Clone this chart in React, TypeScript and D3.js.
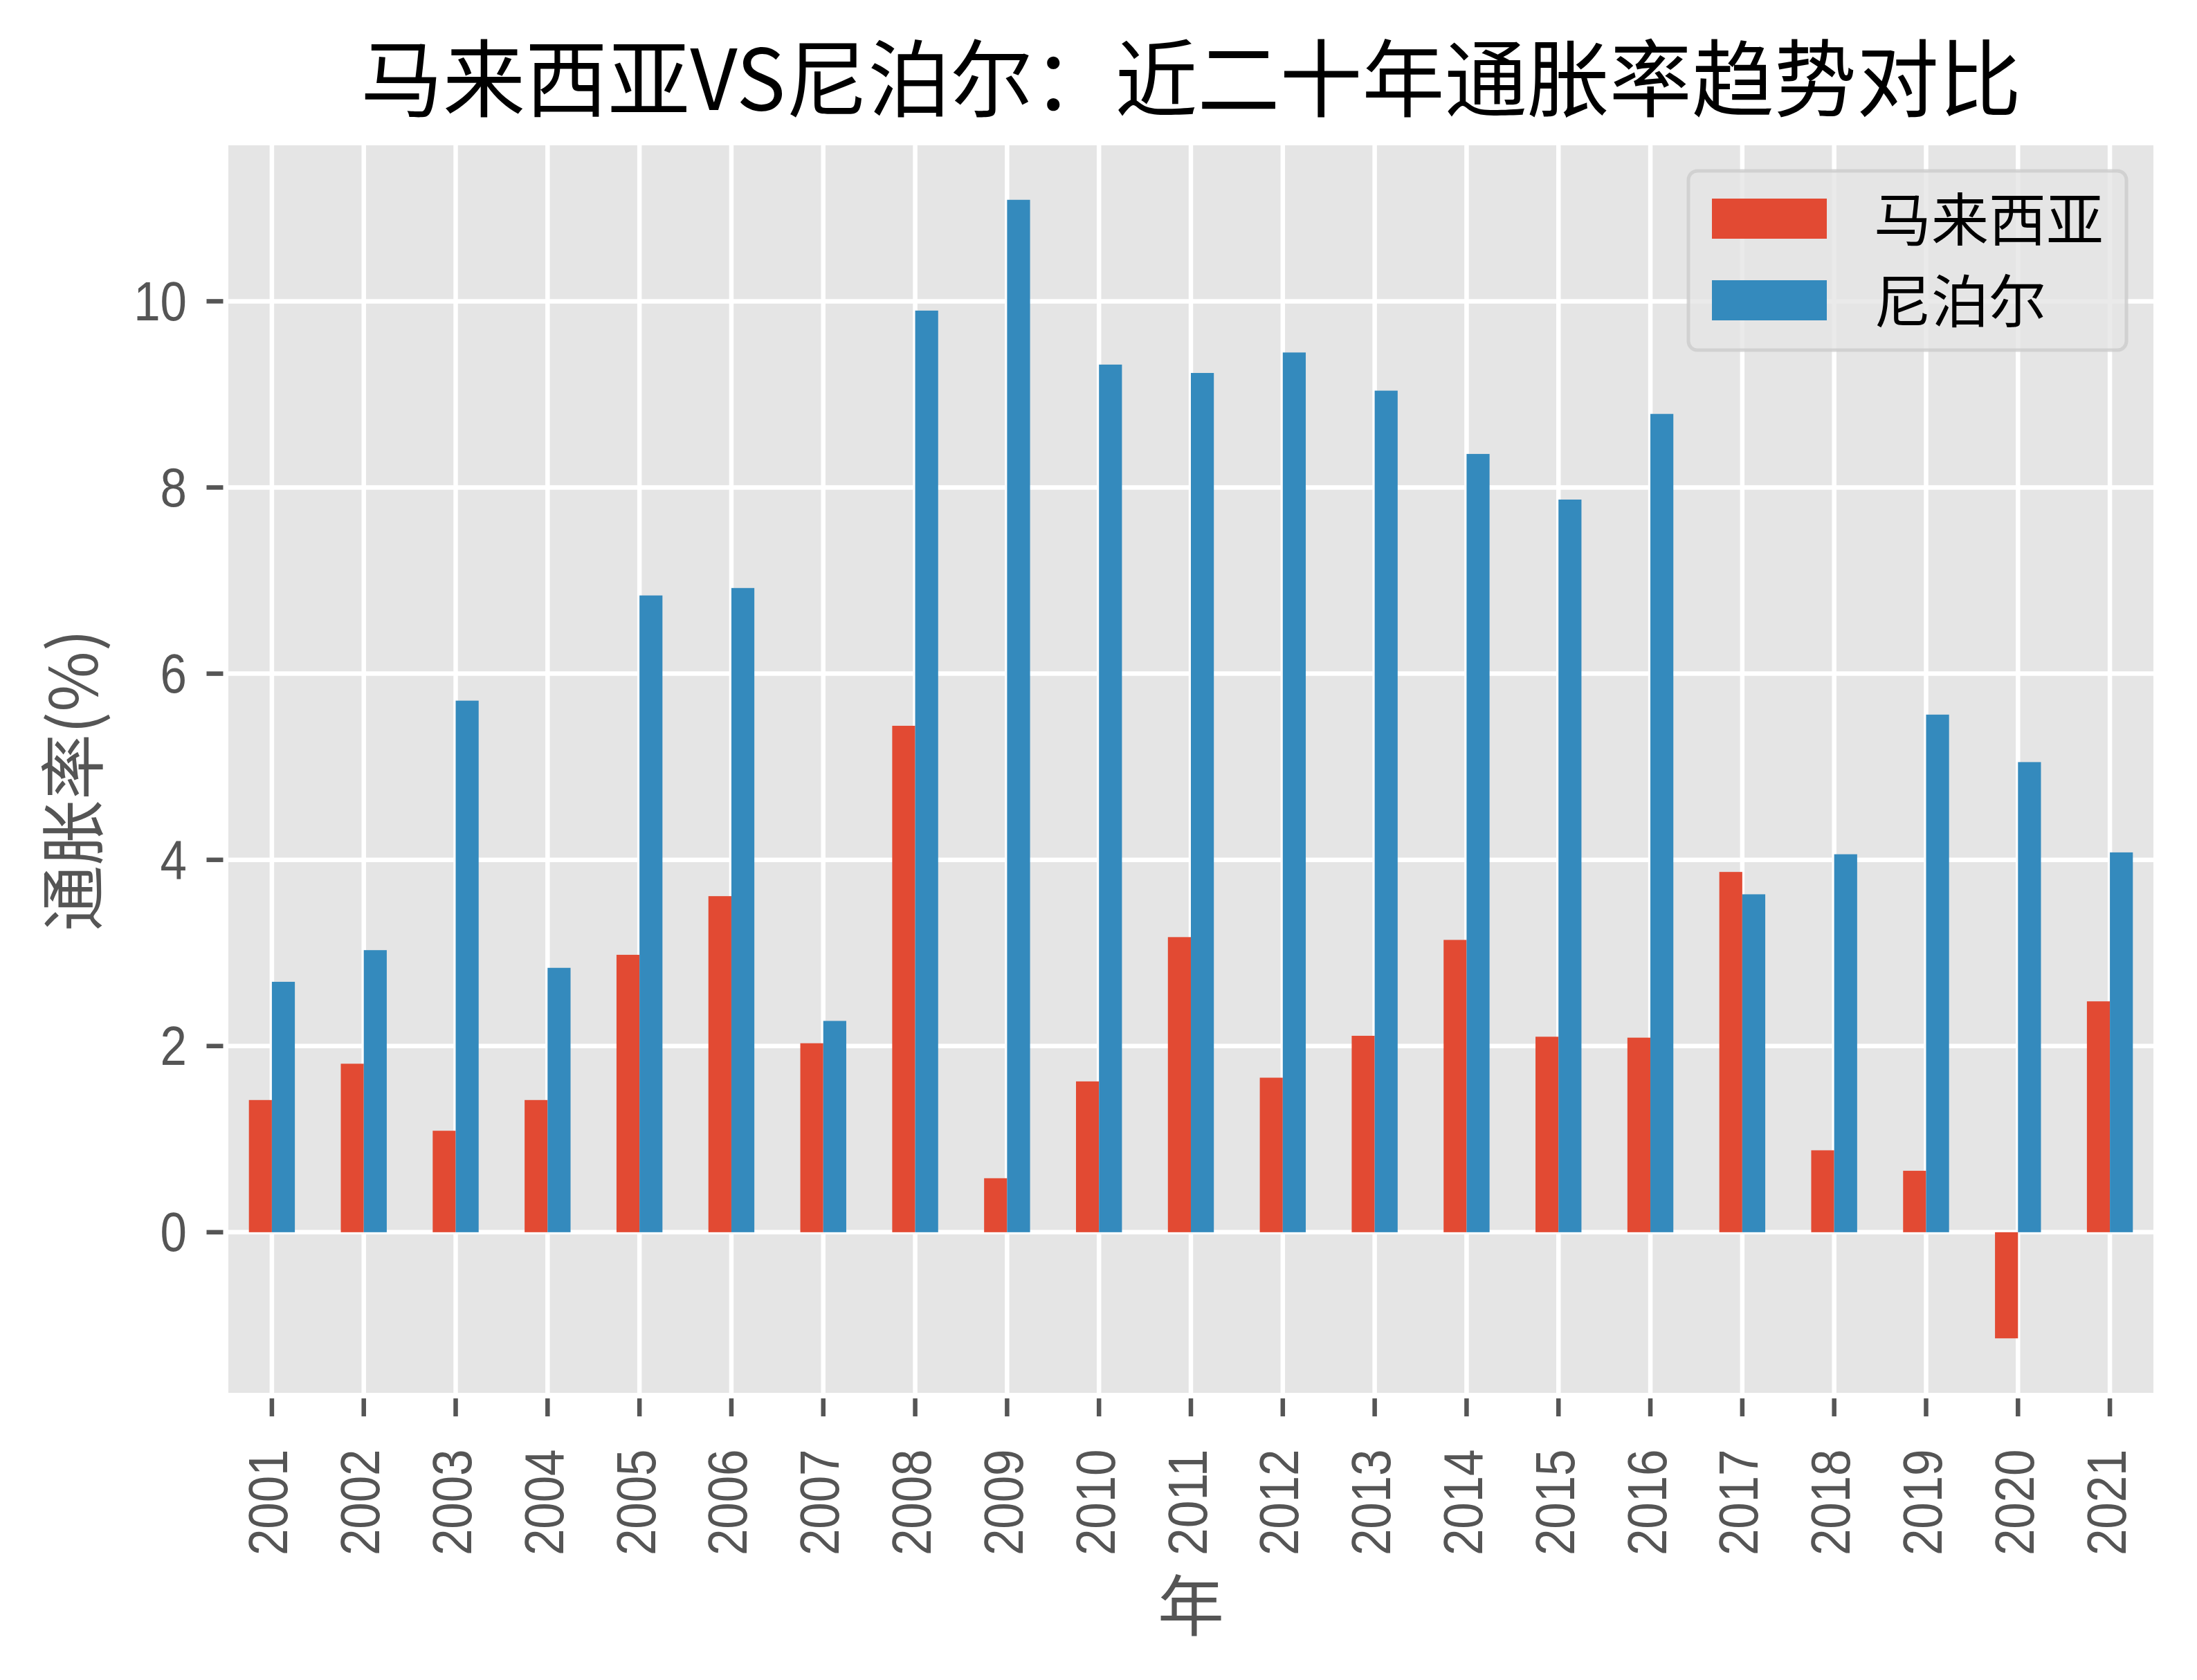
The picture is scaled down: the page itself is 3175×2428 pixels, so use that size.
import React from "react";
import * as d3 from "d3";

// Annual consumer price inflation (%), 2001–2021
const years = [
  "2001", "2002", "2003", "2004", "2005", "2006", "2007", "2008", "2009", "2010",
  "2011", "2012", "2013", "2014", "2015", "2016", "2017", "2018", "2019", "2020", "2021",
];
const malaysia = [
  1.42, 1.81, 1.09, 1.42, 2.98, 3.61, 2.03, 5.44, 0.58, 1.62,
  3.17, 1.66, 2.11, 3.14, 2.10, 2.09, 3.87, 0.88, 0.66, -1.14, 2.48,
];
const nepal = [
  2.69, 3.03, 5.71, 2.84, 6.84, 6.92, 2.27, 9.90, 11.09, 9.32,
  9.23, 9.45, 9.04, 8.36, 7.87, 8.79, 3.63, 4.06, 5.56, 5.05, 4.08,
];
const seriesNames = ["马来西亚", "尼泊尔"];
const seriesColors = ["#E24A33", "#348ABD"];
const yTickValues = [0, 2, 4, 6, 8, 10];

const title = "马来西亚VS尼泊尔：近二十年通胀率趋势对比";
const xLabel = "年";
const yLabel = "通胀率(%)";

const W = 3175;
const H = 2428;
const plot = { left: 326.5, right: 3115.5, top: 206.5, bottom: 2016.5 };

const CJK = '"Noto Sans CJK SC", "Noto Sans", sans-serif';
const NUM = '"Liberation Sans", Arial, sans-serif';
const TICK_FS = 80;
const TICK_COLOR = "#555555";

export default function App() {
  const x = d3
    .scaleLinear()
    .domain([-0.5, years.length - 0.5])
    .range([plot.left, plot.right]);

  const [lo, hi] = d3.extent([...malaysia, ...nepal, 0]) as [number, number];
  const pad = (hi - lo) * 0.05;
  const y = d3
    .scaleLinear()
    .domain([lo - pad, hi + pad])
    .range([plot.bottom, plot.top]);

  const groupWidth = 0.5;
  const barUnit = groupWidth / seriesNames.length;
  const barW = x(barUnit) - x(0);
  const series = [malaysia, nepal];

  const midX = (plot.left + plot.right) / 2;

  return (
    <svg
      width={W}
      height={H}
      viewBox={`0 0 ${W} ${H}`}
      style={{ position: "absolute", left: 0, top: 0, background: "#ffffff" }}
    >
      <rect x={0} y={0} width={W} height={H} fill="#ffffff" />

      {/* panel */}
      <rect
        x={plot.left}
        y={plot.top}
        width={plot.right - plot.left}
        height={plot.bottom - plot.top}
        fill="#E5E5E5"
      />

      {/* grid */}
      <g stroke="#ffffff" strokeWidth={6.5}>
        {years.map((_, i) => (
          <line key={`vx${i}`} x1={x(i)} x2={x(i)} y1={plot.top} y2={plot.bottom} />
        ))}
        {yTickValues.map((v) => (
          <line key={`hy${v}`} x1={plot.left} x2={plot.right} y1={y(v)} y2={y(v)} />
        ))}
      </g>

      {/* bars */}
      {series.map((vals, s) => (
        <g key={seriesNames[s]} fill={seriesColors[s]}>
          {vals.map((v, i) => {
            const cx = i - groupWidth / 2 + barUnit * (s + 0.5);
            const x0 = x(cx) - barW / 2;
            const y0 = y(Math.max(v, 0));
            const h = Math.abs(y(v) - y(0));
            return <rect key={years[i]} x={x0} y={y0} width={barW} height={h} />;
          })}
        </g>
      ))}

      {/* panel edge */}
      <rect
        x={plot.left}
        y={plot.top}
        width={plot.right - plot.left}
        height={plot.bottom - plot.top}
        fill="none"
        stroke="#ffffff"
        strokeWidth={7}
      />

      {/* y ticks */}
      {yTickValues.map((v) => (
        <g key={`yt${v}`}>
          <line
            x1={plot.left - 28}
            x2={plot.left - 4}
            y1={y(v)}
            y2={y(v)}
            stroke={TICK_COLOR}
            strokeWidth={6.5}
          />
          <text
            x={270}
            y={y(v)}
            textAnchor="end"
            dominantBaseline="central"
            fontFamily={NUM}
            fontSize={TICK_FS}
            fill={TICK_COLOR}
            textLength={String(v).length * TICK_FS * 0.48}
            lengthAdjust="spacingAndGlyphs"
          >
            {v}
          </text>
        </g>
      ))}

      {/* x ticks */}
      {years.map((yr, i) => (
        <g key={`xt${yr}`}>
          <line
            x1={x(i)}
            x2={x(i)}
            y1={plot.bottom + 4.5}
            y2={plot.bottom + 30.5}
            stroke={TICK_COLOR}
            strokeWidth={6.5}
          />
          <text
            transform={`translate(${x(i) + 22.5}, ${plot.bottom + 78}) rotate(-90)`}
            textAnchor="end"
            fontFamily={NUM}
            fontSize={TICK_FS}
            fill={TICK_COLOR}
            textLength={yr.length * TICK_FS * 0.48}
            lengthAdjust="spacingAndGlyphs"
          >
            {yr}
          </text>
        </g>
      ))}

      {/* title */}
      <text
        x={midX}
        y={159}
        textAnchor="middle"
        fontFamily={CJK}
        fontSize={122}
        fill="#000000"
        textLength={2400}
        lengthAdjust="spacingAndGlyphs"
      >
        {title}
      </text>

      {/* axis labels */}
      <text
        x={midX}
        y={2356}
        textAnchor="middle"
        fontFamily={CJK}
        fontSize={96}
        fill={TICK_COLOR}
      >
        {xLabel}
      </text>
      <text
        transform={`translate(141, ${(plot.top + plot.bottom) / 2 + 16}) rotate(-90)`}
        textAnchor="middle"
        fontFamily={CJK}
        fontSize={95}
        fill={TICK_COLOR}
      >
        {yLabel}
      </text>

      {/* legend */}
      <g>
        <rect
          x={2440}
          y={247}
          width={633}
          height={259}
          rx={13}
          ry={13}
          fill="#E5E5E5"
          fillOpacity={0.8}
          stroke="#CCCCCC"
          strokeOpacity={0.8}
          strokeWidth={5}
        />
        {seriesNames.map((name, s) => {
          const cy = 316 + s * 118;
          return (
            <g key={`lg${name}`}>
              <rect x={2474} y={cy - 29} width={166} height={58} fill={seriesColors[s]} />
              <text
                x={2708}
                y={cy + 31.5}
                fontFamily={CJK}
                fontSize={83}
                fill="#000000"
              >
                {name}
              </text>
            </g>
          );
        })}
      </g>
    </svg>
  );
}
